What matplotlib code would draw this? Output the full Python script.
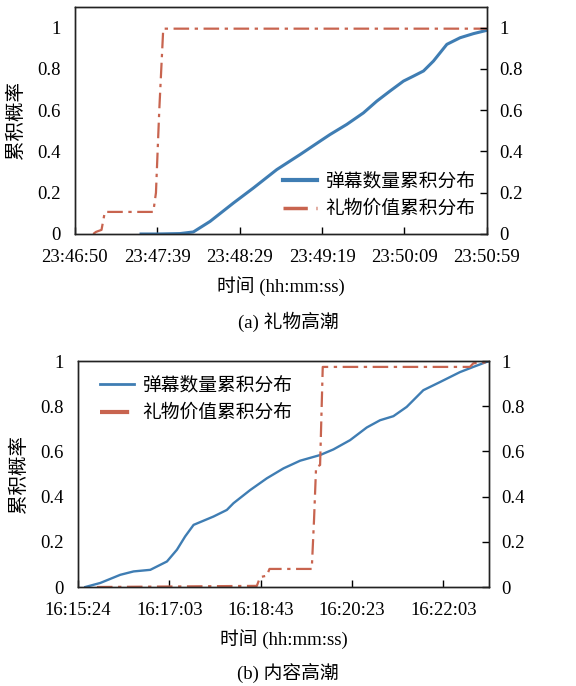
import numpy as np
import matplotlib
matplotlib.use("Agg")
import matplotlib.pyplot as plt

plt.rcParams['font.family'] = ['Liberation Serif', 'Noto Sans CJK SC']
plt.rcParams['font.size'] = 13.5

# ---- (a) 礼物高潮 ----
a_danmu_t = [40, 49.8, 63.5, 71.6, 81.7, 95.8, 107.9, 122.0, 136.1, 148.2, 154.2, 164.3,
             174.4, 182.5, 190.5, 198.6, 204.6, 210.7, 216.7, 224.8, 232.8, 240.9, 249]
a_danmu_y = [0, 0, 0.002, 0.01, 0.061, 0.150, 0.223, 0.312, 0.385, 0.450, 0.482, 0.531,
             0.587, 0.644, 0.693, 0.741, 0.765, 0.790, 0.838, 0.919, 0.951, 0.971, 0.987]
a_gift_t = [11.1, 12.7, 16.1, 18.1, 47.4, 49.0, 51.0, 53.4, 249]
a_gift_y = [0, 0.01, 0.02, 0.107, 0.107, 0.2, 0.6, 0.995, 0.995]
a_ticks = ['23:46:50', '23:47:39', '23:48:29', '23:49:19', '23:50:09', '23:50:59']
a_span = 249

# ---- (b) 内容高潮 ----
b_danmu_t = [8.0, 24.4, 46.2, 60.8, 79.0, 97.2, 108.1, 117.1, 126.3, 148.1, 162.6, 169.9,
             188.1, 206.3, 224.5, 242.7, 264.5, 279.1, 297.3, 315.5, 330.0, 344.6, 359.1,
             377.3, 395.5, 417.3, 431.9, 449]
b_danmu_y = [0, 0.018, 0.054, 0.069, 0.076, 0.113, 0.165, 0.224, 0.275, 0.312, 0.341, 0.371,
             0.429, 0.481, 0.525, 0.559, 0.584, 0.609, 0.650, 0.706, 0.738, 0.756, 0.797,
             0.871, 0.907, 0.951, 0.974, 1.0]
b_gift_t = [20.7, 195.4, 199.0, 206.3, 209.2, 255.4, 257.9, 260.1, 264.5, 267.4, 428.2, 431.9, 449]
b_gift_y = [0, 0.005, 0.044, 0.05, 0.08, 0.08, 0.3, 0.529, 0.54, 0.974, 0.974, 0.99, 0.995]
b_ticks = ['16:15:24', '16:17:03', '16:18:43', '16:20:23', '16:22:03']
b_step = 99.8
b_span = 449

labels = ['弹幕数量累积分布', '礼物价值累积分布']
blue = '#3F7DB3'
orange = '#C8644F'
dash = (0, (7, 2.5, 1.5, 2.5))

fig = plt.figure(figsize=(5.76, 6.86), dpi=100)


def style_axes(ax, ylim, yticks, yticklabels):
    ax.set_ylim(*ylim)
    ax.set_yticks(yticks)
    ax.set_yticklabels(yticklabels)
    ax.tick_params(axis='x', direction='in', length=5, width=1, pad=11)
    ax.tick_params(axis='y', direction='in', length=0, pad=10)
    for s in ax.spines.values():
        s.set_linewidth(1.0)
        s.set_color('#222222')
    ax2 = ax.twinx()
    ax2.set_ylim(*ylim)
    ax2.set_yticks(yticks)
    ax2.set_yticklabels(yticklabels)
    ax2.tick_params(axis='y', direction='in', length=5, width=1, pad=9)
    for s in ax2.spines.values():
        s.set_linewidth(1.0)
        s.set_color('#222222')
    return ax2


yt = [0, 0.2, 0.4, 0.6, 0.8, 1]
ytl = ['0', '0.2', '0.4', '0.6', '0.8', '1']

# Top
ax1 = fig.add_axes([0.130, 0.6589, 0.7153, 0.3309])
ax1.plot(a_danmu_t, a_danmu_y, color=blue, lw=2.2, label=labels[0])
ax1.plot(a_gift_t, a_gift_y, color=orange, lw=1.6, ls=dash, label=labels[1])
ax1.set_xlim(0, a_span)
ax1.set_xticks(np.linspace(0, a_span, len(a_ticks)))
ax1.set_xticklabels(a_ticks)
style_axes(ax1, (0, 1.1), yt, ytl)
ax1.set_ylabel('累积概率', fontsize=14)
ax1.yaxis.set_label_coords(-0.121, 0.5)
ax1.set_xlabel('时间 (hh:mm:ss)', labelpad=7)
leg = ax1.legend(loc='lower right', frameon=False, handlelength=1.85, handletextpad=0.45,
                 borderaxespad=0.2, bbox_to_anchor=(1.0, 0.02), labelspacing=0.55)
leg.get_lines()[0].set_linewidth(3)
leg.get_lines()[1].set_linewidth(2.5)
fig.text(0.5, 1 - 322 / 686, '(a) 礼物高潮', ha='center', va='center', fontsize=13.5)

# Bottom
ax3 = fig.add_axes([0.1354, 0.1443, 0.7135, 0.3294])
ax3.plot(b_danmu_t, b_danmu_y, color=blue, lw=1.7, label=labels[0])
ax3.plot(b_gift_t, b_gift_y, color=orange, lw=1.6, ls=dash, label=labels[1])
ax3.set_xlim(0, b_span)
ax3.set_xticks([i * b_step for i in range(len(b_ticks))])
ax3.set_xticklabels(b_ticks)
style_axes(ax3, (0, 1.0), yt, ytl)
ax3.set_ylabel('累积概率', fontsize=14)
ax3.yaxis.set_label_coords(-0.122, 0.5)
ax3.set_xlabel('时间 (hh:mm:ss)', labelpad=7)
leg2 = ax3.legend(loc='upper left', frameon=False, handlelength=1.85, handletextpad=0.45,
                  borderaxespad=0.2, bbox_to_anchor=(0.025, 0.98), labelspacing=0.55)
leg2.get_lines()[0].set_linewidth(2)
leg2.get_lines()[1].set_linewidth(3)
fig.text(0.5, 1 - 673 / 686, '(b) 内容高潮', ha='center', va='center', fontsize=13.5)

fig.savefig('out.png', dpi=100)
